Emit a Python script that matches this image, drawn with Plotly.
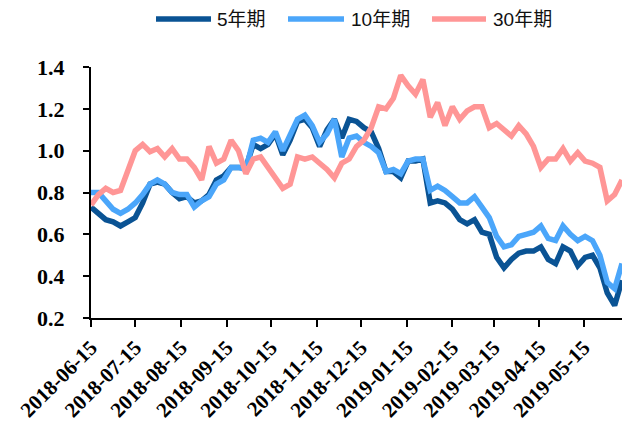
import pandas as pd
import plotly.graph_objects as go

# dates sampled every 5 days from 2018-06-15
dates = pd.date_range("2018-06-15", periods=73, freq="5D")

y5 = [0.73, 0.70, 0.67, 0.66, 0.64, 0.66, 0.68, 0.75, 0.84, 0.85, 0.84, 0.80, 0.77, 0.78, 0.75, 0.76, 0.79, 0.86,
      0.88, 0.92, 0.92, 0.92, 1.03, 1.01, 1.03, 1.08, 0.98, 1.05, 1.14, 1.15, 1.11, 1.02, 1.10, 1.15, 1.06, 1.15,
      1.14, 1.11, 1.09, 1.01, 0.90, 0.90, 0.87, 0.95, 0.95, 0.96, 0.75, 0.76, 0.75, 0.72, 0.67, 0.65, 0.67, 0.61,
      0.60, 0.49, 0.44, 0.48, 0.51, 0.52, 0.52, 0.54, 0.48, 0.46, 0.54, 0.52, 0.45, 0.49, 0.50, 0.44, 0.32, 0.26, 0.38]

y10 = [0.80, 0.80, 0.76, 0.72, 0.70, 0.72, 0.75, 0.79, 0.84, 0.86, 0.84, 0.80, 0.79, 0.79, 0.73, 0.76, 0.78, 0.84,
       0.86, 0.92, 0.92, 0.91, 1.05, 1.06, 1.04, 1.09, 1.00, 1.08, 1.15, 1.17, 1.12, 1.04, 1.08, 1.15, 0.97, 1.06,
       1.07, 1.04, 1.02, 0.99, 0.90, 0.91, 0.89, 0.95, 0.96, 0.96, 0.81, 0.83, 0.81, 0.78, 0.75, 0.75, 0.78, 0.73,
       0.68, 0.59, 0.54, 0.55, 0.59, 0.60, 0.61, 0.64, 0.58, 0.57, 0.64, 0.60, 0.57, 0.59, 0.57, 0.50, 0.37, 0.34, 0.46]

y30 = [0.74, 0.79, 0.82, 0.80, 0.81, 0.91, 1.00, 1.03, 0.995, 1.01, 0.97, 1.01, 0.96, 0.96, 0.92, 0.86, 1.02, 0.94,
       0.96, 1.05, 1.00, 0.89, 0.96, 0.97, 0.92, 0.86, 0.82, 0.84, 0.97, 0.96, 0.97, 0.94, 0.91, 0.87, 0.94, 0.96,
       1.02, 1.05, 1.11, 1.21, 1.20, 1.25, 1.36, 1.31, 1.27, 1.34, 1.16, 1.23, 1.12, 1.21, 1.15, 1.19, 1.21, 1.21,
       1.11, 1.13, 1.10, 1.07, 1.12, 1.08, 1.02, 0.92, 0.96, 0.96, 1.01, 0.95, 0.99, 0.95, 0.94, 0.92, 0.76, 0.79, 0.86]

series_names = ["5年期", "10年期", "30年期"]
colors = ["#0A5394", "#4BA6FA", "#FF9696"]
tick_dates = ["2018-06-15", "2018-07-15", "2018-08-15", "2018-09-15", "2018-10-15", "2018-11-15",
              "2018-12-15", "2019-01-15", "2019-02-15", "2019-03-15", "2019-04-15", "2019-05-15"]

fig = go.Figure()
for name, ys, c in zip(series_names, [y5, y10, y30], colors):
    fig.add_trace(go.Scatter(x=dates, y=ys, name=name, mode="lines", showlegend=False,
                             line=dict(color=c, width=5.5, shape="linear")))

# manual legend (pixel layout converted to paper coordinates)
W_L, W_P, H_T, H_P = 91, 531, 67, 251
def px(x):
    return (x - W_L) / W_P
def py(y):
    return (H_T + H_P - y) / H_P

legend_line_px = [(156, 211), (288, 344), (432, 486)]
legend_text_px = [215, 349, 491]
for (x0, x1), tx, name, c in zip(legend_line_px, legend_text_px, series_names, colors):
    fig.add_shape(type="line", xref="paper", yref="paper", x0=px(x0), x1=px(x1), y0=py(19), y1=py(19),
                  line=dict(color=c, width=5.5))
    fig.add_annotation(xref="paper", yref="paper", x=px(tx), y=py(20), text=name, showarrow=False,
                       xanchor="left", yanchor="middle",
                       font=dict(family="Liberation Sans, Noto Sans CJK SC", size=19, color="#111"))

serif = "Liberation Serif, Times New Roman, serif"
fig.update_layout(
    width=622, height=425,
    margin=dict(l=91, r=0, t=67, b=107),
    paper_bgcolor="white", plot_bgcolor="white",
    showlegend=False,
    xaxis=dict(type="date", range=["2018-06-15", "2019-06-10"],
               tickvals=tick_dates, ticktext=tick_dates, tickangle=-45,
               showline=True, linecolor="black", linewidth=2,
               ticks="outside", ticklen=7, tickwidth=2, tickcolor="black",
               showgrid=False, zeroline=False,
               tickfont=dict(family=serif, size=21, color="black", weight="bold")),
    yaxis=dict(range=[0.2, 1.4], tickvals=[0.2, 0.4, 0.6, 0.8, 1.0, 1.2, 1.4],
               ticktext=["0.2", "0.4", "0.6", "0.8", "1.0", "1.2", "1.4"],
               showline=True, linecolor="black", linewidth=2,
               ticks="outside", ticklen=6, tickwidth=2, tickcolor="black",
               showgrid=False, zeroline=False, ticklabelstandoff=14,
               tickfont=dict(family=serif, size=22, color="black", weight="bold")),
)

fig.write_html("out.html")
